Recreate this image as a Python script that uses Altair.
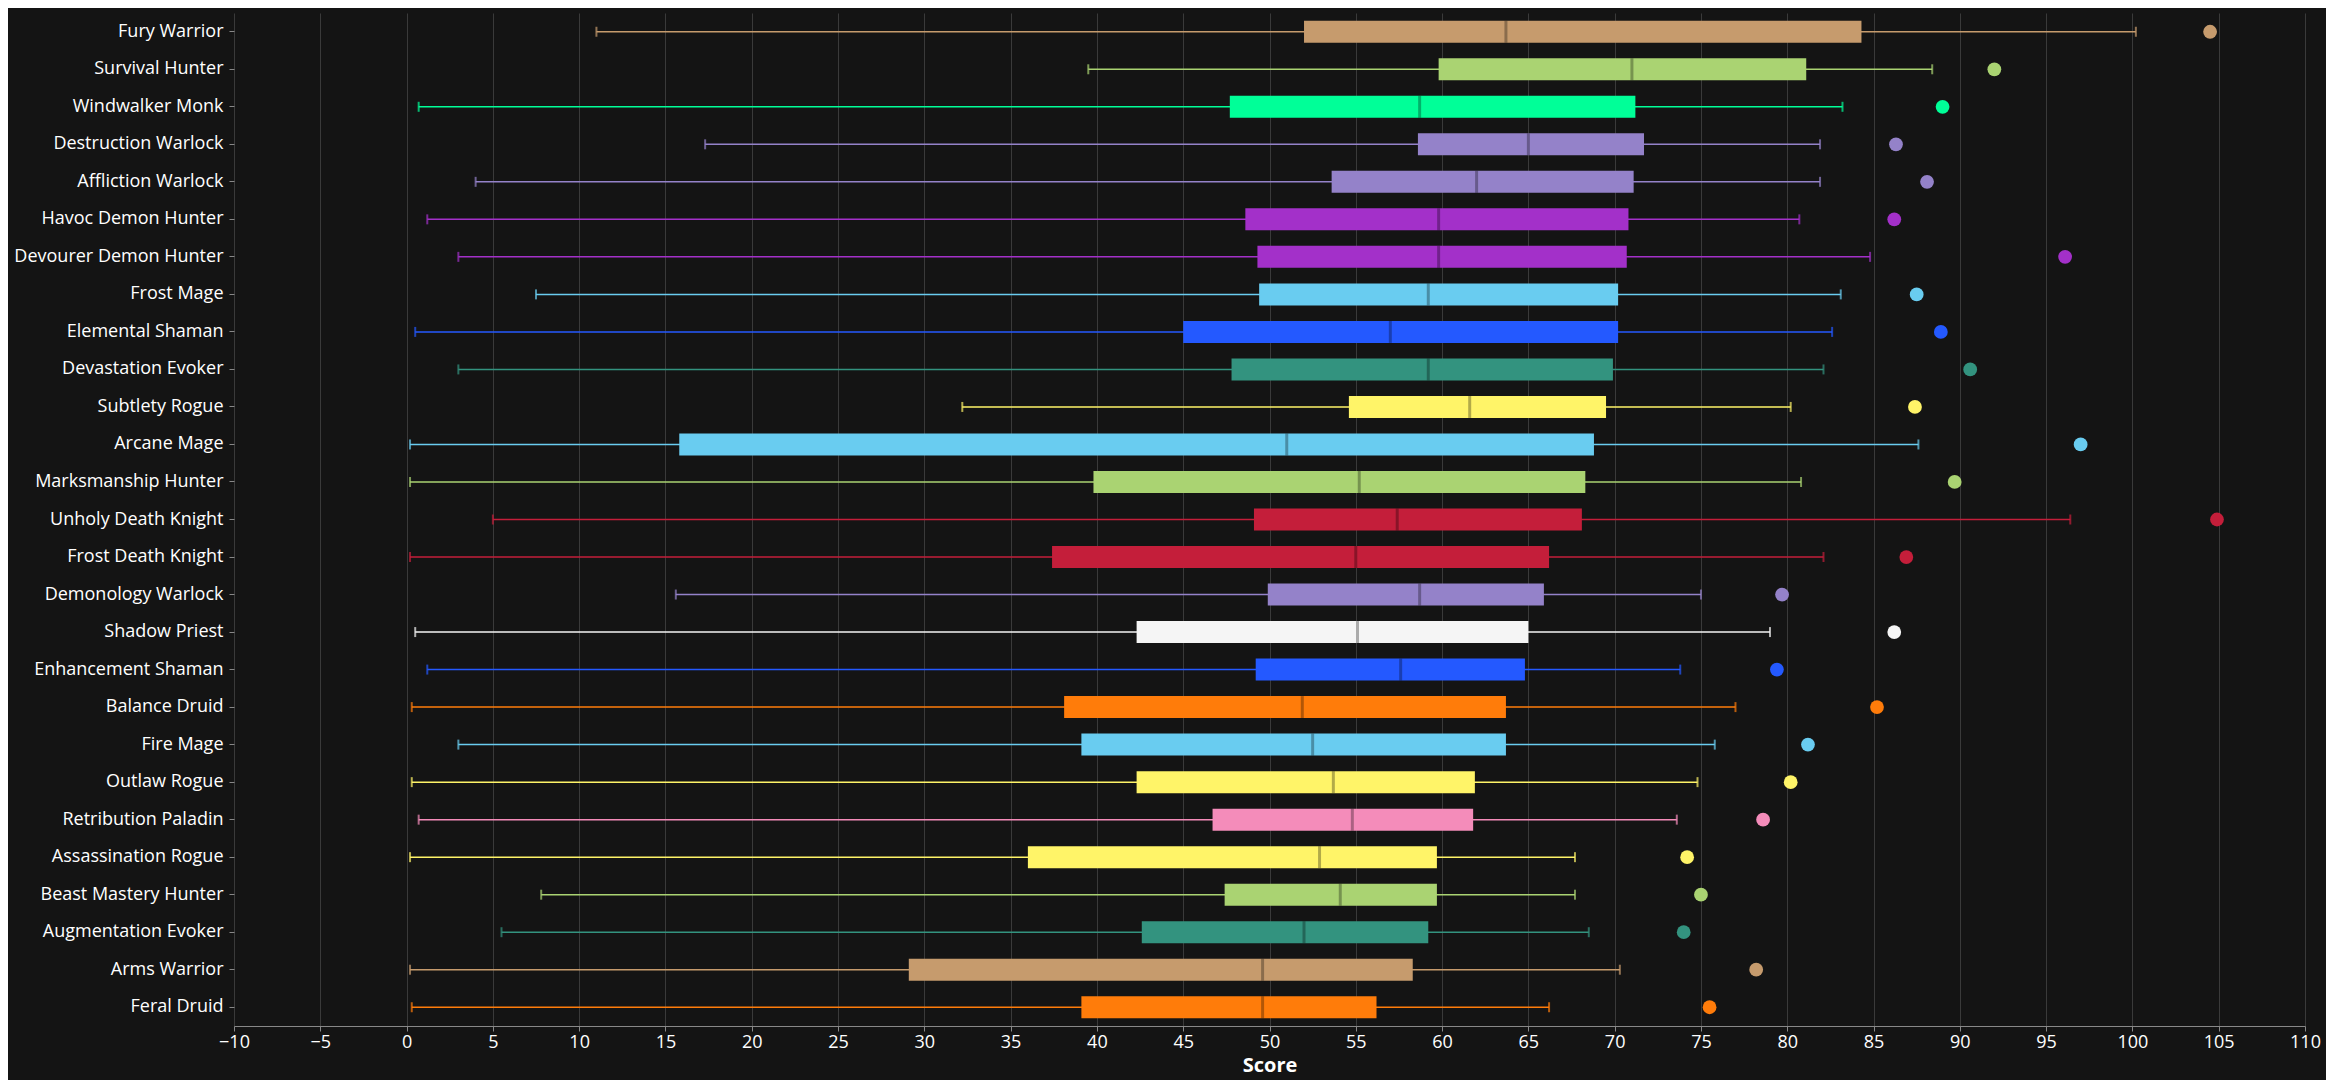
import altair as alt
import pandas as pd

specs = ["Fury Warrior","Survival Hunter","Windwalker Monk","Destruction Warlock","Affliction Warlock",
"Havoc Demon Hunter","Devourer Demon Hunter","Frost Mage","Elemental Shaman","Devastation Evoker",
"Subtlety Rogue","Arcane Mage","Marksmanship Hunter","Unholy Death Knight","Frost Death Knight",
"Demonology Warlock","Shadow Priest","Enhancement Shaman","Balance Druid","Fire Mage","Outlaw Rogue",
"Retribution Paladin","Assassination Rogue","Beast Mastery Hunter","Augmentation Evoker","Arms Warrior","Feral Druid"]
classes = ["Warrior","Hunter","Monk","Warlock","Warlock","Demon Hunter","Demon Hunter","Mage","Shaman","Evoker",
"Rogue","Mage","Hunter","Death Knight","Death Knight","Warlock","Priest","Shaman","Druid","Mage","Rogue",
"Paladin","Rogue","Hunter","Evoker","Warrior","Druid"]
low = [11.0,39.5,0.7,17.3,4.0,1.2,3.0,7.5,0.5,3.0,32.2,0.2,0.2,5.0,0.2,15.6,0.5,1.2,0.3,3.0,0.3,0.7,0.2,7.8,5.5,0.2,0.3]
q1 = [52.0,59.8,47.7,58.6,53.6,48.6,49.3,49.4,45.0,47.8,54.6,15.8,39.8,49.1,37.4,49.9,42.3,49.2,38.1,39.1,42.3,46.7,36.0,47.4,42.6,29.1,39.1]
med = [63.7,71.0,58.7,65.0,62.0,59.8,59.8,59.2,57.0,59.2,61.6,51.0,55.2,57.4,55.0,58.7,55.1,57.6,51.9,52.5,53.7,54.8,52.9,54.1,52.0,49.6,49.6]
q3 = [84.3,81.1,71.2,71.7,71.1,70.8,70.7,70.2,70.2,69.9,69.5,68.8,68.3,68.1,66.2,65.9,65.0,64.8,63.7,63.7,61.9,61.8,59.7,59.7,59.2,58.3,56.2]
high = [100.2,88.4,83.2,81.9,81.9,80.7,84.8,83.1,82.6,82.1,80.2,87.6,80.8,96.4,82.1,75.0,79.0,73.8,77.0,75.8,74.8,73.6,67.7,67.7,68.5,70.3,66.2]
top = [104.5,92.0,89.0,86.3,88.1,86.2,96.1,87.5,88.9,90.6,87.4,97.0,89.7,104.9,86.9,79.7,86.2,79.4,85.2,81.2,80.2,78.6,74.2,75.0,74.0,78.2,75.5]

class_names = ["Warrior","Hunter","Monk","Warlock","Demon Hunter","Mage","Shaman","Evoker","Rogue","Death Knight","Priest","Druid","Paladin"]
class_colors = ["#C69B6D","#AAD372","#00FF98","#9482C9","#A330C9","#69CCF0","#2459FF","#33937F","#FFF468","#C41E3A","#F5F5F5","#FF7C0A","#F48CBA"]

df = pd.DataFrame(dict(spec=specs, cls=classes, low=low, q1=q1, med=med, q3=q3, high=high, top=top))

color = alt.Color("cls:N", scale=alt.Scale(domain=class_names, range=class_colors), legend=None)
y = alt.Y("spec:N", sort=specs, title=None,
          axis=alt.Axis(labelColor="#ffffff", labelFontSize=18, labelFont="Open Sans", domain=False, ticks=True,
                        tickColor="#888", grid=False, labelPadding=6, labelLimit=400))
xs = alt.Scale(domain=[-10, 110], nice=False)
xax = alt.Axis(values=list(range(-10, 111, 5)), labelColor="#ffffff", labelFontSize=18, labelFont="Open Sans",
               title="Score", titleColor="#ffffff", titleFontSize=20, titleFont="Open Sans",
               gridColor="#3a3a3a", domainColor="#888", tickColor="#888", labelFlush=False)

base = alt.Chart(df)
ys = alt.Y("spec:N", sort=specs)
rule = base.mark_rule(strokeWidth=1.5).encode(x=alt.X("low:Q", scale=xs, axis=xax), x2="high:Q", y=y, color=color)
capl = base.mark_tick(thickness=2, size=10, orient="vertical").encode(x="low:Q", y=ys, color=color)
caph = base.mark_tick(thickness=2, size=10, orient="vertical").encode(x="high:Q", y=ys, color=color)
box = base.mark_bar(size=22).encode(x="q1:Q", x2="q3:Q", y=ys, color=color)
medt = base.mark_tick(thickness=3, size=22, orient="vertical", color="#000000", opacity=0.3).encode(x="med:Q", y=ys)
pt = base.mark_circle(size=190, opacity=1).encode(x="top:Q", y=ys, color=color)

chart = alt.layer(rule, capl, caph, box, medt, pt).properties(
    width=2318, height=1072, background="#141414",
    autosize=alt.AutoSizeParams(type="fit", contains="padding")
).configure_view(stroke=None)

chart.save("out.html", embed_options={"renderer": "svg", "actions": False})
